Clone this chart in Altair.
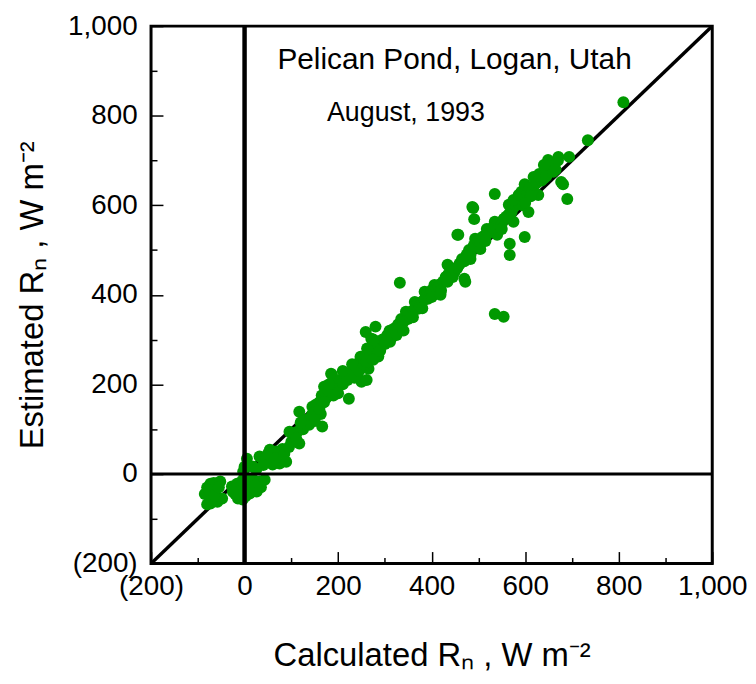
import altair as alt
import pandas as pd

# Calculated (x) and estimated (y) net radiation, W m-2
calc_a = [-85, -80, -73, -66, -52, -77, -63, -69, -73, -58, -48, -80, -65, -55,
          -27, -16, -10, -14, -4, 5, 18, 32, 43, 26, 11, -20, 0, 8, 15, -5, 22, 35, 2, -25, 5, 0, -3]
est_a = [-45, -30, -22, -20, -17, -35, -39, -55, -66, -62, -55, -68, -48, -30,
         -28, -22, -39, -55, -57, -24, -13, -17, -13, -39, -44, -45, -40, -10, -30, -15, -25, -30, -50, -40, 34, 16, 5]

calc_b = [18, 32, 47, 54, 60, 68, 81, 89, 75, 40, 25, 50, 65, 85, 95, 100, 113, 106, 117, 138, 144, 163,
          166, 117, 132, 96, 113, 125, 140, 150, 155, 130, 110, 120, 145]
est_b = [16, 39, 34, 54, 21, 50, 56, 27, 23, 20, 10, 45, 35, 45, 60, 72, 94, 88, 68, 110, 132, 134,
         106, 139, 121, 94, 72, 100, 120, 118, 140, 110, 80, 115, 150]

calc_c = [153, 170, 187, 195, 216, 223, 229, 237, 248, 250, 259, 185, 174, 265, 261, 280, 271, 248, 286,
          160, 165, 175, 180, 190, 200, 205, 210, 215, 220, 225, 235, 240, 245, 255, 260, 270, 275, 280,
          285, 290, 295, 300, 305, 200, 190, 230, 210, 180, 160, 170, 262, 275]
est_c = [155, 195, 221, 184, 217, 168, 228, 235, 257, 206, 317, 224, 195, 235, 210, 329, 302, 262, 262,
         160, 175, 170, 185, 200, 195, 210, 200, 225, 210, 220, 215, 240, 230, 245, 250, 265, 255, 280,
         290, 275, 300, 290, 310, 180, 175, 245, 230, 200, 145, 160, 280, 300]

calc_d = [328, 311, 349, 364, 385, 406, 419, 434, 449, 470, 472, 392, 371, 335, 345, 310, 315, 320, 325,
          330, 340, 350, 355, 360, 365, 370, 375, 380, 385, 390, 395, 400, 405, 410, 415, 420, 425, 430,
          435, 440, 445, 450, 455, 332, 340, 360, 380, 400, 420, 438, 459, 419, 434]
est_d = [333, 295, 346, 384, 407, 422, 407, 467, 451, 436, 429, 391, 369, 346, 362, 320, 305, 325, 310,
         335, 340, 360, 350, 365, 370, 380, 375, 385, 390, 400, 395, 410, 400, 415, 420, 425, 430, 440,
         445, 450, 440, 455, 460, 427, 320, 350, 370, 395, 410, 462, 467, 400, 429]

calc_e = [455, 483, 493, 504, 518, 535, 540, 487, 491, 535, 565, 571, 575, 567, 567, 599, 483, 497, 504,
          518, 460, 465, 470, 475, 480, 490, 500, 505, 510, 515, 520, 525, 530, 545, 550, 555, 560, 565,
          570, 575, 580, 585, 590, 595, 600, 550, 554, 575, 586, 592, 607, 535, 554, 457, 489]
est_e = [534, 480, 525, 502, 547, 563, 534, 596, 569, 625, 601, 585, 563, 514, 489, 529, 489, 511, 525,
         534, 470, 480, 475, 490, 500, 510, 520, 515, 530, 520, 540, 545, 550, 555, 560, 570, 575, 580,
         590, 595, 600, 605, 610, 600, 615, 547, 569, 612, 623, 630, 585, 357, 351, 534, 594]

calc_f = [599, 618, 628, 630, 649, 651, 671, 694, 677, 681, 690, 609, 605, 610, 615, 620, 625, 635, 640,
          645, 655, 660, 665, 670, 640, 734, 810, 612, 600]
est_f = [647, 663, 623, 670, 701, 681, 708, 708, 652, 647, 614, 636, 625, 640, 630, 645, 650, 655, 660,
         665, 690, 675, 680, 700, 690, 745, 830, 620, 605]

line_ends = [-200, 1000]
major_ticks = [-200, 0, 200, 400, 600, 800, 1000]
minor_ticks = [-100, 100, 300, 500, 700, 900]

title_text = ["Pelican Pond, Logan, Utah"]
title_x = [449]
title_y = [904]
date_text = ["August, 1993"]
date_x = [345]
date_y = [788]

pts = pd.DataFrame({
    "calc": calc_a + calc_b + calc_c + calc_d + calc_e + calc_f,
    "est": est_a + est_b + est_c + est_d + est_e + est_f,
})
diag = pd.DataFrame({"calc": line_ends, "est": line_ends})
zero = pd.DataFrame({"v": [0]})
ann1 = pd.DataFrame({"t": title_text, "x": title_x, "y": title_y})
ann2 = pd.DataFrame({"t": date_text, "x": date_x, "y": date_y})

FONT = "Liberation Sans"
sc = alt.Scale(domain=[-200, 1000], nice=False, zero=False)
lab_expr = "datum.value < 0 ? '(' + format(-datum.value, ',') + ')' : format(datum.value, ',')"

x_lab = alt.Axis(orient="bottom", values=major_ticks, labelExpr=lab_expr, ticks=False, domain=False,
                 grid=False, labelFont=FONT, labelFontSize=28, labelColor="black", labelPadding=9,
                 labelFlush=False, labelOverlap=False, title="Calculated R\u2099 , W m\u207b\u00b2",
                 titleFont=FONT, titleFontSize=33, titleFontWeight="normal", titleColor="black",
                 titlePadding=40)
y_lab = alt.Axis(orient="left", values=major_ticks, labelExpr=lab_expr, ticks=False, domain=False,
                 grid=False, labelFont=FONT, labelFontSize=28, labelColor="black", labelPadding=14,
                 labelFlush=False, labelOverlap=False, title="Estimated R\u2099 , W m\u207b\u00b2",
                 titleFont=FONT, titleFontSize=33, titleFontWeight="normal", titleColor="black",
                 titlePadding=18)

def tick_axis(orient, vals, size):
    return alt.Axis(orient=orient, values=vals, labels=False, domain=False, grid=False, ticks=True,
                    tickSize=size, offset=-size, tickColor="black", tickWidth=1.5, title=None)

diag_layer = alt.Chart(diag).mark_line(color="black", strokeWidth=3.5, clip=True).encode(
    x=alt.X("calc:Q", scale=sc, axis=tick_axis("bottom", major_ticks, 12)),
    y=alt.Y("est:Q", scale=sc, axis=tick_axis("left", major_ticks, 12)),
)

pts_layer = alt.Chart(pts).mark_circle(size=145, color="#009900", opacity=1).encode(
    x=alt.X("calc:Q", scale=sc, axis=x_lab),
    y=alt.Y("est:Q", scale=sc, axis=y_lab),
)

vzero = alt.Chart(zero).mark_rule(color="black", strokeWidth=4.5).encode(
    x=alt.X("v:Q", scale=sc, axis=tick_axis("bottom", minor_ticks, 6)),
)
hzero = alt.Chart(zero).mark_rule(color="black", strokeWidth=3).encode(
    y=alt.Y("v:Q", scale=sc, axis=tick_axis("left", minor_ticks, 6)),
)

t1 = alt.Chart(ann1).mark_text(font=FONT, fontSize=30, color="black", align="center",
                               baseline="alphabetic").encode(
    x=alt.X("x:Q", scale=sc, axis=None), y=alt.Y("y:Q", scale=sc, axis=None), text="t:N")
t2 = alt.Chart(ann2).mark_text(font=FONT, fontSize=27, color="black", align="center",
                               baseline="alphabetic").encode(
    x=alt.X("x:Q", scale=sc, axis=None), y=alt.Y("y:Q", scale=sc, axis=None), text="t:N")

chart = alt.layer(diag_layer, pts_layer, vzero, hzero, t1, t2).resolve_axis(
    x="independent", y="independent"
).properties(
    width=745, height=667,
    autosize=alt.AutoSizeParams(type="fit", contains="padding"),
    padding={"left": 8, "top": 2, "right": 0, "bottom": 0},
    background="white",
).configure_view(stroke="black", strokeWidth=3)

chart.save("out.html", embed_options={"renderer": "svg", "actions": False})
